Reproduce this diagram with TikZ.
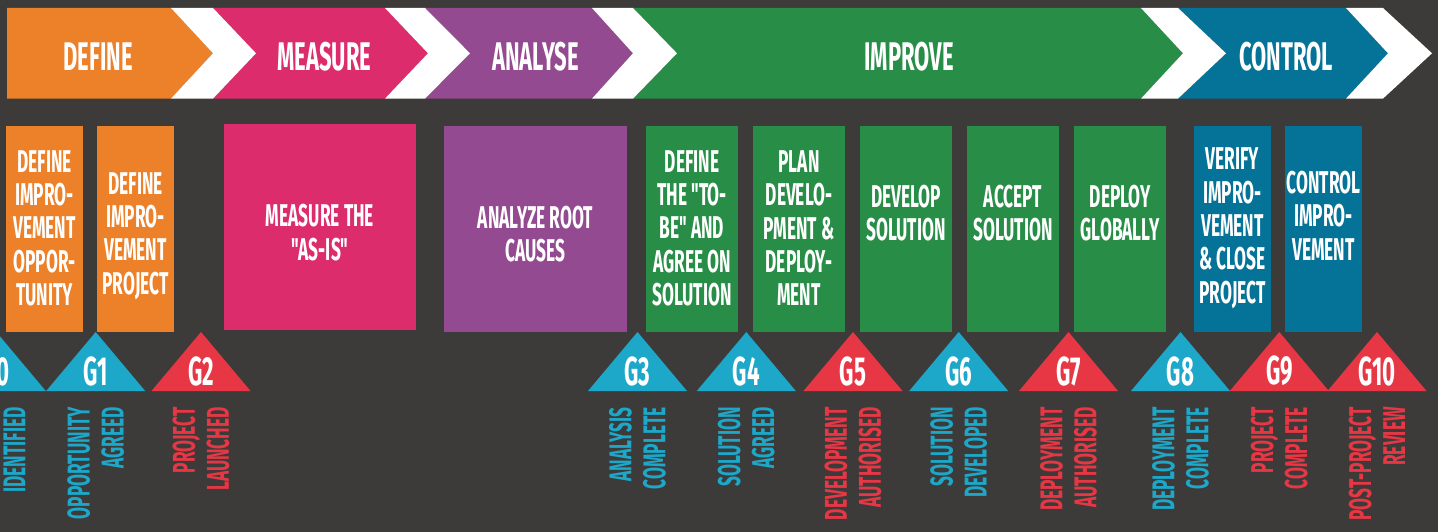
\documentclass[tikz,border=0pt]{standalone}
\usepackage{fontspec}
\newfontfamily\gf{Fira Sans}[FakeStretch=0.55]
\definecolor{bg}{HTML}{3C3B3A}
\definecolor{cor}{HTML}{EC8129}
\definecolor{cpk}{HTML}{DC2C6B}
\definecolor{cpu}{HTML}{934A90}
\definecolor{cgr}{HTML}{288E47}
\definecolor{cbl}{HTML}{057397}
\definecolor{tbl}{HTML}{1DA7C9}
\definecolor{trd}{HTML}{E73745}
\newcommand\mygate[5]{%
  \fill[#3] (#2-49.5,391) -- (#2,332) -- (#2+49.5,391) -- cycle;
  \node[gtxt] (#1) at (#2,371) {#4};
  \node[vtxt,text=#3] (#1l) at (#2,407) {#5};
}
\begin{document}
\begin{tikzpicture}[x=1pt,y=-1pt,
  bandtxt/.style={text=white,font=\gf\bfseries\fontsize{40}{40}\selectfont,inner sep=0pt},
  boxtxt/.style={text=white,font=\gf\bfseries\fontsize{31.5}{33.3}\selectfont,align=center,inner sep=0pt},
  gtxt/.style={text=white,font=\gf\bfseries\fontsize{40.5}{40.5}\selectfont,inner sep=0pt},
  vtxt/.style={font=\gf\bfseries\fontsize{31.5}{34}\selectfont,align=right,rotate=90,anchor=east,inner sep=0pt},
  stepbox/.style={fill=#1,draw=none,inner sep=0pt,anchor=north west}]
\clip (0,0) rectangle (1438,532);
\fill[bg] (0,0) rectangle (1438,532);
% band
\def\T{8}\def\M{53.3}\def\B{98.6}
\fill[cor] (7,\T) -- (171,\T) -- (213,\M) -- (171,\B) -- (7,\B) -- cycle;
\fill[cpk] (213,\T) -- (385,\T) -- (428,\M) -- (385,\B) -- (213,\B) -- (256,\M) -- cycle;
\fill[cpu] (425,\T) -- (592,\T) -- (633,\M) -- (592,\B) -- (425,\B) -- (470,\M) -- cycle;
\fill[cgr] (633,\T) -- (1141,\T) -- (1183,\M) -- (1141,\B) -- (633,\B) -- (677,\M) -- cycle;
\fill[cbl] (1178,\T) -- (1346,\T) -- (1388,\M) -- (1346,\B) -- (1178,\B) -- (1226,\M) -- cycle;
\fill[white] (171,\T) -- (213,\T) -- (256,\M) -- (213,\B) -- (171,\B) -- (213,\M) -- cycle;
\fill[white] (385,\T) -- (425,\T) -- (470,\M) -- (425,\B) -- (385,\B) -- (428,\M) -- cycle;
\fill[white] (592,\T) -- (633,\T) -- (677,\M) -- (633,\B) -- (592,\B) -- (633,\M) -- cycle;
\fill[white] (1141,\T) -- (1178,\T) -- (1226,\M) -- (1178,\B) -- (1141,\B) -- (1183,\M) -- cycle;
\fill[white] (1346,\T) -- (1383,\T) -- (1432,\M) -- (1383,\B) -- (1346,\B) -- (1388,\M) -- cycle;
\node[bandtxt] (pdef) at (98,57) {DEFINE};
\node[bandtxt] (pmea) at (324.5,57) {MEASURE};
\node[bandtxt] (pana) at (535.5,57) {ANALYSE};
\node[bandtxt] (pimp) at (909,57) {IMPROVE};
\node[bandtxt] (pcon) at (1286,57) {CONTROL};
% boxes
\node[stepbox=cor,minimum width=77,minimum height=206] (b1) at (6,126) {};
\node[stepbox=cor,minimum width=77,minimum height=206] (b2) at (97,126) {};
\node[stepbox=cpk,minimum width=192,minimum height=206] (b3) at (224,124) {};
\node[stepbox=cpu,minimum width=183,minimum height=206] (b4) at (444,126) {};
\node[stepbox=cgr,minimum width=92,minimum height=206] (b5) at (646,126) {};
\node[stepbox=cgr,minimum width=92,minimum height=206] (b6) at (753,126) {};
\node[stepbox=cgr,minimum width=92,minimum height=206] (b7) at (860,126) {};
\node[stepbox=cgr,minimum width=92,minimum height=206] (b8) at (967,126) {};
\node[stepbox=cgr,minimum width=92,minimum height=206] (b9) at (1074,126) {};
\node[stepbox=cbl,minimum width=77,minimum height=206] (b10) at (1194,126) {};
\node[stepbox=cbl,minimum width=77,minimum height=206] (b11) at (1285,126) {};
\node[boxtxt] (t1) at (44.5,228.3) {DEFINE\\IMPRO-\\VEMENT\\OPPOR-\\TUNITY};
\node[boxtxt] (t2) at (135.5,236) {DEFINE\\IMPRO-\\VEMENT\\PROJECT};
\node[boxtxt] (t3) at (320,232.5) {MEASURE THE\\"AS-IS"};
\node[boxtxt] (t4) at (535.5,234.2) {ANALYZE ROOT\\CAUSES};
\node[boxtxt] (t5) at (692,228.3) {DEFINE\\THE "TO-\\BE" AND\\AGREE ON\\SOLUTION};
\node[boxtxt] (t6) at (799,228.3) {PLAN\\DEVELO-\\PMENT \&\\DEPLOY-\\MENT};
\node[boxtxt] (t7) at (906,213.3) {DEVELOP\\SOLUTION};
\node[boxtxt] (t8) at (1013,213.3) {ACCEPT\\SOLUTION};
\node[boxtxt] (t9) at (1120,213.3) {DEPLOY\\GLOBALLY};
\node[boxtxt] (t10) at (1232.5,228.3) {VERIFY\\IMPRO-\\VEMENT\\\& CLOSE\\PROJECT};
\node[boxtxt] (t11) at (1323.5,215.8) {CONTROL\\IMPRO-\\VEMENT};
% gates
\fill[tbl] (-53.2,391) -- (-3.7,332) -- (45.8,391) -- cycle;
\node[gtxt] (g0) at (-3.7,371) {G0};
\node[vtxt,text=tbl] (g0l) at (14.5,407) {IDENTIFIED};
\mygate{g1}{95.7}{tbl}{G1}{OPPORTUNITY\\AGREED}
\mygate{g2}{201}{trd}{G2}{PROJECT\\LAUNCHED}
\mygate{g3}{637.5}{tbl}{G3}{ANALYSIS\\COMPLETE}
\mygate{g4}{746.3}{tbl}{G4}{SOLUTION\\AGREED}
\mygate{g5}{853}{trd}{G5}{DEVELOPMENT\\AUTHORISED}
\mygate{g6}{958.7}{tbl}{G6}{SOLUTION\\DEVELOPED}
\mygate{g7}{1068.5}{trd}{G7}{DEPLOYMENT\\AUTHORISED}
\mygate{g8}{1180.5}{tbl}{G8}{DEPLOYMENT\\COMPLETE}
\mygate{g9}{1279.3}{trd}{G9}{PROJECT\\COMPLETE}
\mygate{g10}{1377}{trd}{G10}{POST-PROJECT\\REVIEW}
\end{tikzpicture}
\end{document}
